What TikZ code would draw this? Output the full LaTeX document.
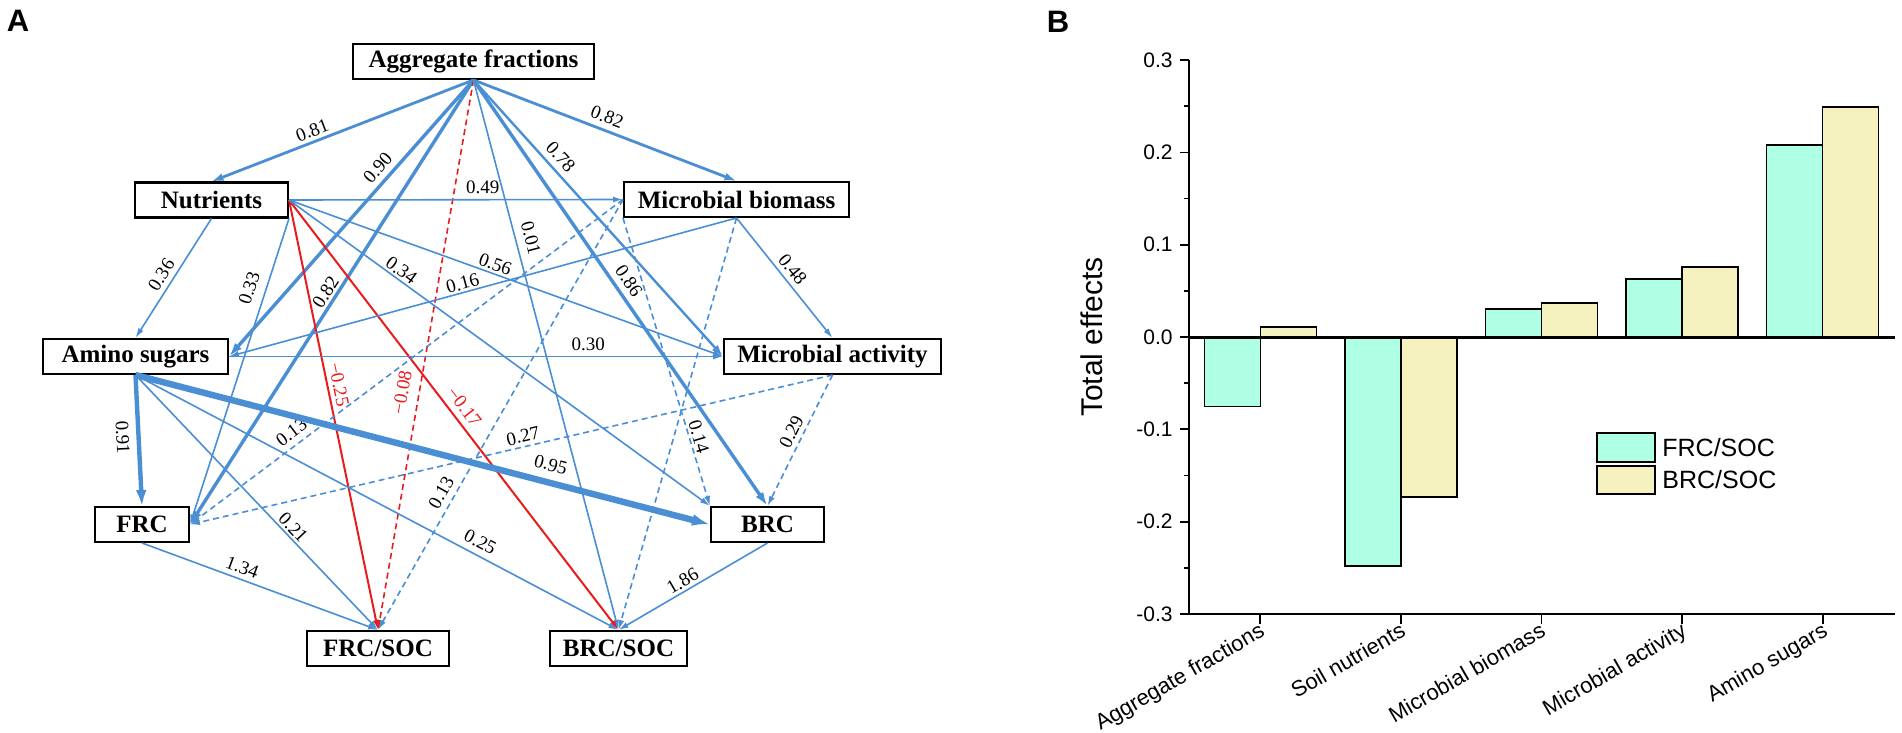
\documentclass[tikz,border=0pt]{standalone}
\usepackage{fontspec}
\setmainfont{Liberation Serif}
\setsansfont{Liberation Sans}
\usetikzlibrary{arrows.meta}

\definecolor{pathblue}{RGB}{74,142,212}
\definecolor{pathred}{RGB}{232,28,28}
\definecolor{frcfill}{RGB}{174,255,228}
\definecolor{brcfill}{RGB}{246,242,192}

\begin{document}
\begin{tikzpicture}[x=0.5pt, y=-0.5pt,
    var/.style = {draw, line width=1.1pt, inner sep=0pt, minimum height=17.4pt,
                  font=\fontsize{12.5}{14}\selectfont\bfseries},
    lbl/.style = {text=black, font=\fontsize{9.5}{11}\selectfont, inner sep=1pt},
    eff/.style = {pathblue, line width=0.8pt, -{Latex[length=5pt,width=3pt]}},
    effmid/.style = {pathblue, line width=1.2pt, -{Latex[length=6pt,width=4pt]}},
    effstrong/.style = {pathblue, line width=1.4pt, -{Latex[length=6pt,width=4pt]}},
    effbold/.style = {pathblue, line width=1.7pt, -{Latex[length=7pt,width=4.5pt]}},
    effheavy/.style = {pathblue, line width=2.2pt, -{Latex[length=8pt,width=5.5pt]}},
    effhuge/.style = {pathblue, line width=3.2pt, -{Latex[length=9pt,width=6pt]}},
    ns/.style = {pathblue, line width=0.8pt, dash pattern=on 3pt off 2pt, -{Latex[length=5pt,width=3pt]}},
    neg/.style = {pathred, line width=1pt, -{Latex[length=5pt,width=3pt]}},
    negdash/.style = {pathred, line width=0.8pt, dash pattern=on 3pt off 2pt, -{Latex[length=5pt,width=3pt]}},
    bar/.style = {draw, line width=0.7pt},
    axlbl/.style = {font=\sffamily\fontsize{10.5}{12}\selectfont, inner sep=0pt},
    cat/.style = {font=\sffamily\fontsize{11}{13}\selectfont, inner sep=0pt, anchor=north east, rotate=30}]

  \useasboundingbox (0,0) rectangle (1902,733);

  % panel A: path model
  \node[font=\sffamily\bfseries\fontsize{15.5}{18}\selectfont] (pa) at (18,21) {A};

  \node[var, minimum width=120.4pt] (agg) at (473.5,61.5) {Aggregate fractions};
  \node[var, minimum width=76.4pt] (nut) at (211.5,200) {Nutrients};
  \node[var, minimum width=112.4pt] (mb) at (736.5,199.5) {Microbial biomass};
  \node[var, minimum width=92.4pt] (amino) at (135.5,356.5) {Amino sugars};
  \node[var, minimum width=108.4pt] (ma) at (832.5,356.5) {Microbial activity};
  \node[var, minimum width=46.9pt] (frc) at (142,524.5) {FRC};
  \node[var, minimum width=56.4pt] (brc) at (767.5,524.5) {BRC};
  \node[var, minimum width=70.9pt] (frcsoc) at (378,648.5) {FRC/SOC};
  \node[var, minimum width=68.4pt] (brcsoc) at (618.5,648.5) {BRC/SOC};

  % from aggregate fractions
  \draw (agg.south) edge[effstrong] node[lbl, pos=.60, rotate=21, above=.7pt] {0.81} (nut.north);
  \draw (agg.south) edge[effstrong] node[lbl, pos=.49, rotate=-21, above=1.8pt] {0.82} (mb.north);
  \draw (agg.south) edge[effbold] node[lbl, pos=.35, rotate=48.5, above=1.7pt] {0.90} (amino.east);
  \draw (agg.south) edge[effbold] node[lbl, pos=.49, rotate=57.5, above=.2pt] {0.82} (frc.east);
  \draw (agg.south) edge[negdash] node[lbl, text=pathred, pos=.574, rotate=80, above=3.8pt] {−0.08} (frcsoc.north);
  \draw (agg.south) edge[eff] node[lbl, pos=.294, rotate=-75, above=3pt] {0.01} (brcsoc.north);
  \draw (agg.south) edge[effbold] node[lbl, pos=.49, rotate=-55.4, above=1.8pt] {0.86} (brc.north);
  \draw (agg.south) edge[effmid] node[lbl, pos=.31, rotate=-47.9, above=1.8pt] {0.78} (ma.west);

  % from nutrients
  \draw (nut.east) edge[eff] node[lbl, pos=.58, above=1.5pt] {0.49} (mb.west);
  \draw (nut.south) edge[eff] node[lbl, pos=.525, rotate=57.7, above=1.5pt] {0.36} (amino.north);
  \draw (nut.south east) edge[eff] node[lbl, pos=.244, rotate=72, above=3.6pt] {0.33} (frc.east);
  \draw (nut.east) edge[neg] node[lbl, text=pathred, pos=.435, rotate=-78.3, above=1pt] {−0.25} (frcsoc.north);
  \draw (nut.east) edge[neg] node[lbl, text=pathred, pos=.5, rotate=-52.5, above=1.9pt] {−0.17} (brcsoc.north);
  \draw (nut.east) edge[eff] node[lbl, pos=.254, rotate=-36, above] {0.34} (brc.north west);
  \draw (nut.east) edge[eff] node[lbl, pos=.468, rotate=-19.8, above] {0.56} (ma.west);

  % from microbial biomass
  \draw (mb.south) edge[eff] node[lbl, pos=.49, rotate=-51.3, above=1.2pt] {0.48} (ma.north);
  \draw (mb.south) edge[eff] node[lbl, pos=.535, rotate=15.3, above] {0.16} (amino.east);
  \draw (mb.west) edge[ns] node[lbl, pos=.748, rotate=36.9, above=1.8pt] {0.13} (frc.east);
  \draw (mb.west) edge[ns] node[lbl, pos=.696, rotate=60.4, above=1.9pt] {0.13} (frcsoc.north);
  \draw (mb.south) edge[ns] (brcsoc.north);
  \draw (mb.south west) edge[ns] node[lbl, pos=.769, rotate=-73.2, above] {0.14} (brc.north west);

  % from amino sugars
  \draw (amino.south) edge[effheavy] node[lbl, pos=.47, rotate=-87.2, below=2.6pt] {0.91} (frc.north);
  \draw (amino.south) edge[effhuge] node[lbl, pos=.715, rotate=-14.6, above=3pt] {0.95} (brc.west);
  \draw (amino.south) edge[eff] node[lbl, pos=.623, rotate=-46.4, above] {0.21} (frcsoc.north);
  \draw (amino.south) edge[eff] node[lbl, pos=.701, rotate=-27.8, above=2pt] {0.25} (brcsoc.north);
  \draw (amino.east) edge[eff] node[lbl, pos=.727, above=1.5pt] {0.30} (ma.west);

  % from microbial activity, FRC and BRC
  \draw (ma.south) edge[ns] node[lbl, pos=.472, rotate=63.6, above=1.2pt] {0.29} (brc.north);
  \draw (ma.south) edge[ns] node[lbl, pos=.478, rotate=13.1, above=.6pt] {0.27} (frc.east);
  \draw (frc.south) edge[eff] node[lbl, pos=.407, rotate=-20.2, above=1.4pt] {1.34} (frcsoc.north);
  \draw (brc.south) edge[eff] node[lbl, pos=.537, rotate=30.3, above=.3pt] {1.86} (brcsoc.north);

  % panel B: total effects
  \node[font=\sffamily\bfseries\fontsize{15.5}{18}\selectfont] (pb) at (1058,22) {B};

  \foreach \v [count=\i] in {0.3,0.2,0.1,0.0,-0.1,-0.2,-0.3} {
    \draw[line width=0.9pt] (1180.4,{337-923*\v}) -- (1188.6,{337-923*\v});
    \node[axlbl, anchor=east] (tick\i) at (1173,{337-923*\v}) {\v};
  }
  \foreach \v in {0.25,0.15,0.05,-0.05,-0.15,-0.25}
    \draw[line width=0.9pt] (1184,{337-923*\v}) -- (1188.6,{337-923*\v});

  % bars: FRC/SOC left, BRC/SOC right
  \draw[bar, fill=frcfill] (1204.3,337) rectangle (1260.3,406.2);
  \draw[bar, fill=brcfill] (1260.3,337) rectangle (1316.3,326.8);
  \draw[bar, fill=frcfill] (1344.9,337) rectangle (1400.9,566);
  \draw[bar, fill=brcfill] (1400.9,337) rectangle (1456.9,497);
  \draw[bar, fill=frcfill] (1485.5,337) rectangle (1541.5,309);
  \draw[bar, fill=brcfill] (1541.5,337) rectangle (1597.5,303);
  \draw[bar, fill=frcfill] (1626.1,337) rectangle (1682.1,279);
  \draw[bar, fill=brcfill] (1682.1,337) rectangle (1738.1,267);
  \draw[bar, fill=frcfill] (1766.7,337) rectangle (1822.7,145);
  \draw[bar, fill=brcfill] (1822.7,337) rectangle (1878.7,107);

  \draw[line width=1pt] (1188.6,60) -- (1188.6,614) -- (1895,614);
  \draw[line width=1.5pt] (1188.6,337) -- (1895,337);

  \draw[line width=0.9pt] (1260.3,614) -- (1260.3,624);
  \draw[line width=0.9pt] (1400.9,614) -- (1400.9,624);
  \draw[line width=0.9pt] (1541.5,614) -- (1541.5,624);
  \draw[line width=0.9pt] (1682.1,614) -- (1682.1,624);
  \draw[line width=0.9pt] (1822.7,614) -- (1822.7,624);

  \node[cat] (c1) at (1258,621) {Aggregate fractions};
  \node[cat] (c2) at (1399,621) {Soil nutrients};
  \node[cat] (c3) at (1539,621) {Microbial biomass};
  \node[cat] (c4) at (1680,621) {Microbial activity};
  \node[cat] (c5) at (1821,621) {Amino sugars};

  \node[rotate=90, font=\sffamily\fontsize{15}{17}\selectfont] (ytitle) at (1092,337) {Total effects};

  % legend
  \draw[bar, line width=0.9pt, fill=frcfill] (1597,433) rectangle (1655,462);
  \draw[bar, line width=0.9pt, fill=brcfill] (1597,466) rectangle (1655,494);
  \node[font=\sffamily\fontsize{12.5}{14}\selectfont, anchor=west, inner sep=0pt] (legfrc) at (1662,447.5) {FRC/SOC};
  \node[font=\sffamily\fontsize{12.5}{14}\selectfont, anchor=west, inner sep=0pt] (legbrc) at (1662,480) {BRC/SOC};
\end{tikzpicture}
\end{document}
